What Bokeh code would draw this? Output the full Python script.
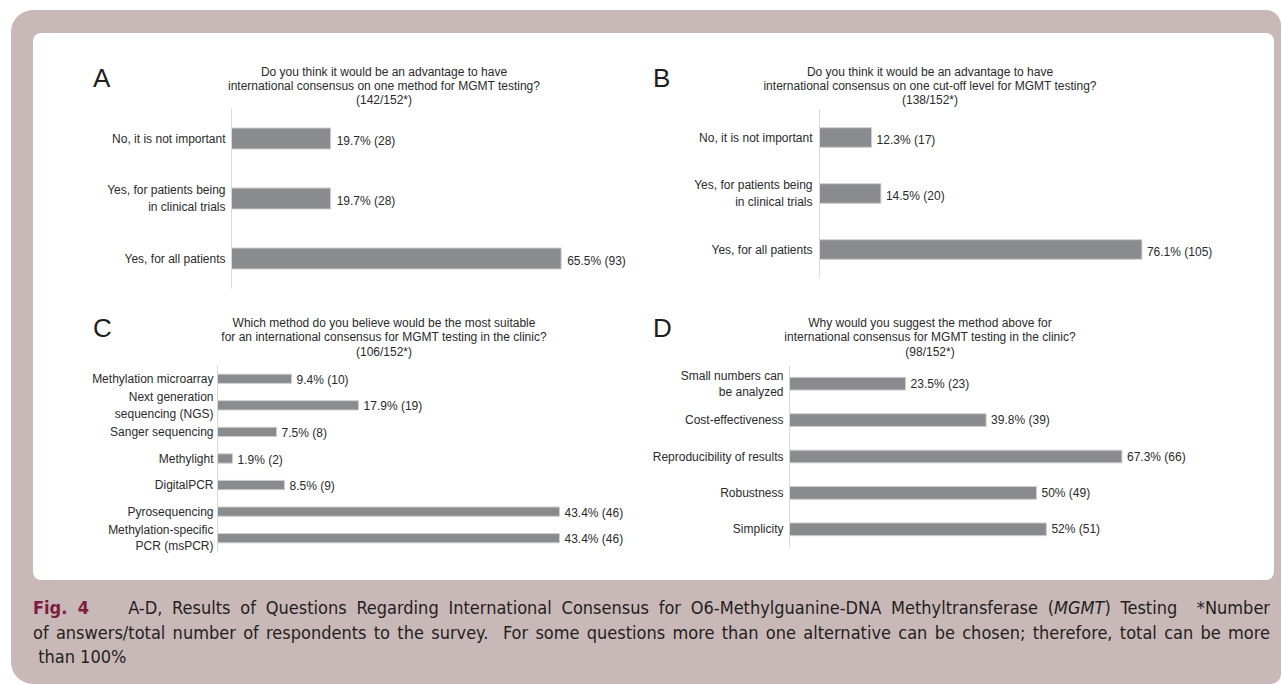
from bokeh.plotting import figure
from bokeh.models import FactorRange, Range1d, Div, Column, Row, ColumnDataSource
from bokeh.embed import file_html
from bokeh.resources import INLINE
from bokeh.core.properties import value

# ---------------- data ----------------
a_categories = ["No, it is not important", "Yes, for patients being\nin clinical trials", "Yes, for all patients"]
a_values = [19.7, 19.7, 65.5]
a_counts = [28, 28, 93]
a_title = ["Do you think it would be an advantage to have",
           "international consensus on one method for MGMT testing?",
           "(142/152*)"]

b_categories = ["No, it is not important", "Yes, for patients being\nin clinical trials", "Yes, for all patients"]
b_values = [12.3, 14.5, 76.1]
b_counts = [17, 20, 105]
b_title = ["Do you think it would be an advantage to have",
           "international consensus on one cut-off level for MGMT testing?",
           "(138/152*)"]

c_categories = ["Methylation microarray", "Next generation\nsequencing (NGS)", "Sanger sequencing",
                "Methylight", "DigitalPCR", "Pyrosequencing", "Methylation-specific\nPCR (msPCR)"]
c_values = [9.4, 17.9, 7.5, 1.9, 8.5, 43.4, 43.4]
c_counts = [10, 19, 8, 2, 9, 46, 46]
c_title = ["Which method do you believe would be the most suitable",
           "for an international consensus for MGMT testing in the clinic?",
           "(106/152*)"]

d_categories = ["Small numbers can\nbe analyzed", "Cost-effectiveness", "Reproducibility of results",
                "Robustness", "Simplicity"]
d_values = [23.5, 39.8, 67.3, 50, 52]
d_counts = [23, 39, 66, 49, 51]
d_title = ["Why would you suggest the method above for",
           "international consensus for MGMT testing in the clinic?",
           "(98/152*)"]

# ---------------- styling / layout ----------------
FONT = "Liberation Sans"
FONT_CSS = "'Liberation Sans', Arial, sans-serif"
TXT = "#2a2a2a"
BAR = "#8a8b8e"
PINK = "#c9b8b8"

# absolute page geometry (px): figure box, plot frame box, px per percent, title/letter spots
GEOM = {
    "A": dict(fig=(33, 33, 605, 277), frame=(231, 108, 632, 288), scale=5.033,
              tcx=384, ty=[72, 86, 100], letter=(93, 78), lx=6, ly=2, standoff=6),
    "B": dict(fig=(638, 33, 636, 277), frame=(819, 109, 1262, 277), scale=4.237,
              tcx=930, ty=[72, 86, 100], letter=(653, 78), lx=5, ly=2, standoff=7),
    "C": dict(fig=(33, 310, 605, 270), frame=(217, 365, 632, 551), scale=7.88,
              tcx=384, ty=[323, 337, 352], letter=(93, 328), lx=5, ly=1, standoff=4),
    "D": dict(fig=(638, 310, 636, 270), frame=(789, 365, 1262, 547), scale=4.94,
              tcx=930, ty=[323, 337, 352], letter=(653, 328), lx=5, ly=0, standoff=6),
}


def make_header(letter, title, g):
    fx, fy, fw, fh = g["fig"]
    L, T, R, B = g["frame"]
    lx, ly = g["letter"]
    h = T - fy
    parts = [f'<div style="position:relative;width:{fw}px;height:{h}px;'
             f'font-family:{FONT_CSS};color:{TXT};">']
    parts.append(f'<div style="position:absolute;left:{lx - fx}px;top:{ly - fy - 12.7:.1f}px;'
                 f'font-size:26px;line-height:26px;white-space:nowrap;color:#1e1e1e;">{letter}</div>')
    for line, ty in zip(title, g["ty"]):
        parts.append(f'<div style="position:absolute;left:{g["tcx"] - fx - 300}px;'
                     f'top:{ty - fy - 7.5:.1f}px;width:600px;text-align:center;font-size:12px;'
                     f'line-height:14px;white-space:nowrap;">{line}</div>')
    parts.append('</div>')
    return Div(text="".join(parts), width=fw, height=h, margin=0)


def make_panel(letter, cats, vals, counts, title, g):
    fx, fy, fw, fh = g["fig"]
    L, T, R, B = g["frame"]
    p = figure(width=fw, height=fy + fh - T, output_backend="svg", toolbar_location=None,
               y_range=FactorRange(factors=cats[::-1]),
               x_range=Range1d(0, (R - L) / g["scale"]),
               x_axis_location=None,
               min_border_left=L - fx, min_border_right=fx + fw - R,
               min_border_top=0, min_border_bottom=fy + fh - B)
    p.border_fill_color = None
    p.background_fill_color = None
    p.outline_line_color = None
    p.grid.visible = False

    ax = p.yaxis[0]
    ax.axis_line_color = "#d9d9d9"
    ax.axis_line_width = 1
    ax.major_tick_line_color = None
    ax.minor_tick_line_color = None
    ax.major_tick_in = 0
    ax.major_tick_out = 0
    ax.major_label_standoff = g["standoff"]
    ax.major_label_text_font = FONT
    ax.major_label_text_font_size = "12px"
    ax.major_label_text_color = TXT
    ax.major_label_text_line_height = 1.17

    src = ColumnDataSource(dict(
        y=cats, v=vals,
        lab=[f"{v:g}% ({c})" for v, c in zip(vals, counts)]))
    p.hbar(y="y", left=0, right="v", height=0.35, source=src,
           fill_color=BAR, line_color="#cfcfd0", line_width=1)
    p.text(x="v", y="y", text="lab", source=src, x_offset=g["lx"], y_offset=g["ly"],
           text_font=value(FONT), text_font_size=value("12px"), text_color=TXT,
           text_baseline="middle", text_align="left")

    return Column(children=[make_header(letter, title, g), p], spacing=0, margin=0)


pa = make_panel("A", a_categories, a_values, a_counts, a_title, GEOM["A"])
pb = make_panel("B", b_categories, b_values, b_counts, b_title, GEOM["B"])
pc = make_panel("C", c_categories, c_values, c_counts, c_title, GEOM["C"])
pd = make_panel("D", d_categories, d_values, d_counts, d_title, GEOM["D"])

white = Column(children=[Row(children=[pa, pb], spacing=0, margin=0),
                         Row(children=[pc, pd], spacing=0, margin=0)],
               spacing=0, width=1241, height=547, margin=(23, 0, 0, 22),
               styles={"background-color": "#ffffff", "border-radius": "8px"})

line_style = ("text-align:justify;text-align-last:justify;white-space:nowrap;"
              "height:24.5px;line-height:24.5px;")
caption_html = (
    '<div style="padding-top:16px;width:1237px;overflow:hidden;'
    'font-family:\'DejaVu Sans Condensed\',\'Liberation Sans Narrow\',\'Liberation Sans\',sans-serif;'
    'font-stretch:condensed;font-size:18px;color:#231f20;">'
    f'<div style="{line_style}"><span style="color:#7d1d3f;font-weight:bold">Fig. 4</span>'
    '&nbsp;&nbsp;&nbsp; A-D, Results of Questions Regarding International Consensus for '
    'O6-Methylguanine-DNA Methyltransferase (<i>MGMT</i>) Testing&nbsp; *Number</div>'
    f'<div style="{line_style}">of answers/total number of respondents to the survey.&nbsp; '
    'For some questions more than one alternative can be chosen; therefore, total can be more</div>'
    '<div style="height:24.5px;line-height:24.5px;white-space:nowrap;">&nbsp;than 100%</div>'
    '</div>'
)
caption = Div(text=caption_html, width=1241, height=104, margin=(0, 0, 0, 22))

outer = Column(children=[white, caption], spacing=0, width=1270, height=674, margin=(10, 0, 0, 11),
               styles={"background-color": PINK, "border-radius": "22px 15px 10px 22px"})

open("out.html", "w").write(file_html(outer, INLINE))
